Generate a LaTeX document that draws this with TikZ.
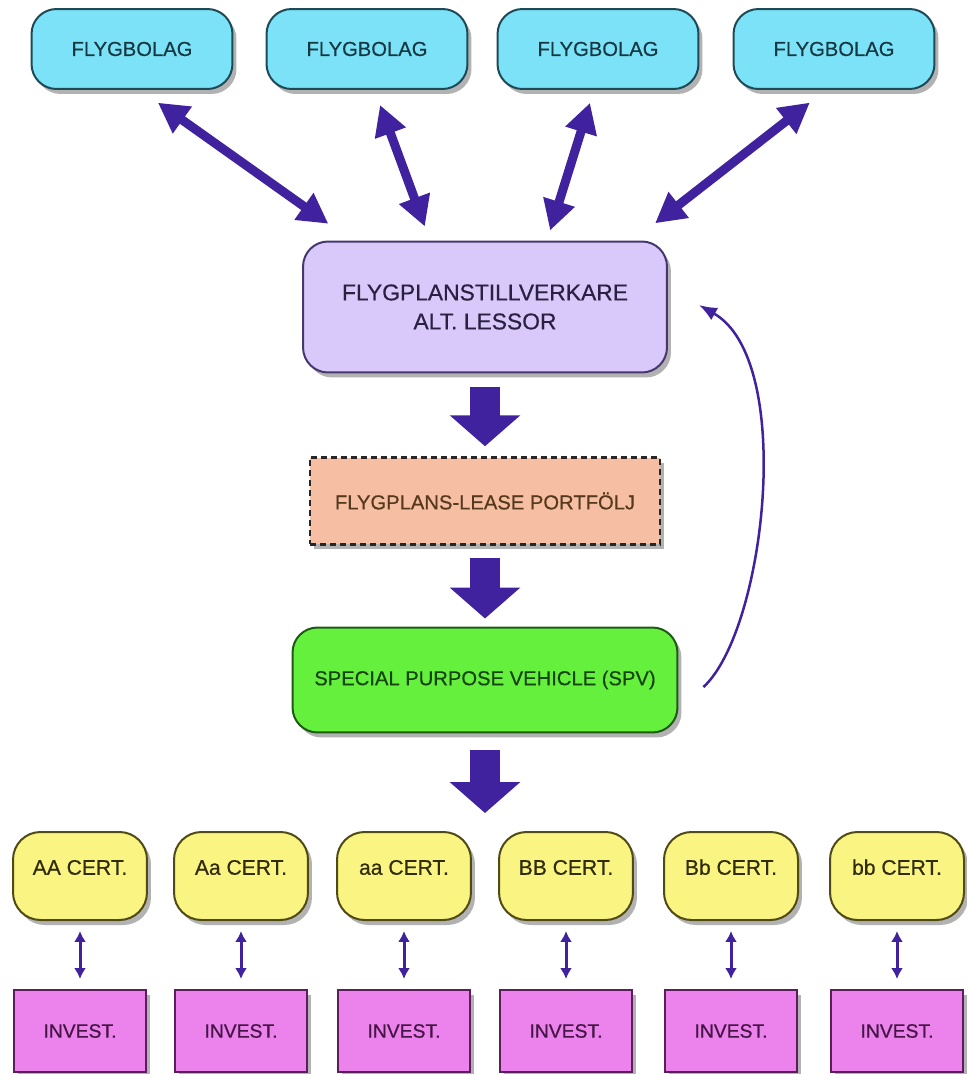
\documentclass[tikz,border=0pt]{standalone}
\usepackage{fontspec}
\setmainfont{Liberation Sans}[FakeBold=0.5]
\usetikzlibrary{arrows.meta, calc, shadows}

\definecolor{arrowc}{RGB}{64,34,158}
\definecolor{fbfill}{RGB}{124,226,247}
\definecolor{fbline}{RGB}{30,74,88}
\definecolor{mfrfill}{RGB}{216,201,250}
\definecolor{mfrline}{RGB}{70,55,110}
\definecolor{leasefill}{RGB}{246,191,163}
\definecolor{spvfill}{RGB}{102,240,62}
\definecolor{spvline}{RGB}{30,90,20}
\definecolor{certfill}{RGB}{250,245,130}
\definecolor{certline}{RGB}{80,74,20}
\definecolor{invfill}{RGB}{236,130,236}
\definecolor{invline}{RGB}{90,30,90}

\begin{document}
\begin{tikzpicture}[
    x=0.02cm, y=-0.02cm,
    >=Triangle,
    shade/.style={drop shadow={shadow xshift=0.08cm, shadow yshift=-0.1cm, opacity=0.3, fill=black}},
    airline/.style={draw=fbline, fill=fbfill, line width=0.04cm, rounded corners=0.5cm, minimum width=4.02cm, minimum height=1.6cm, text=fbline!75!black, font=\fontsize{11.5pt}{13pt}\selectfont, shade},
    maker/.style={draw=mfrline, fill=mfrfill, line width=0.04cm, rounded corners=0.5cm, minimum width=7.28cm, minimum height=2.62cm, align=center, text=mfrline!60!black, font=\fontsize{13pt}{16.5pt}\selectfont, shade},
    pool/.style={draw=black!85, fill=leasefill, line width=0.05cm, dash pattern=on 0.12cm off 0.08cm, minimum width=7cm, minimum height=1.74cm, text=brown!45!black, font=\fontsize{11.5pt}{13pt}\selectfont, shade},
    vehicle/.style={draw=spvline, fill=spvfill, line width=0.04cm, rounded corners=0.5cm, minimum width=7.7cm, minimum height=2.1cm, text=spvline!75!black, font=\fontsize{11.5pt}{13pt}\selectfont, shade},
    cert/.style={draw=certline, fill=certfill, line width=0.04cm, rounded corners=0.55cm, minimum width=2.68cm, minimum height=1.76cm, text height=0.3cm, text depth=0.35cm, text=certline!60!black, font=\fontsize{12pt}{14pt}\selectfont, shade},
    invest/.style={draw=invline, fill=invfill, line width=0.04cm, minimum width=2.64cm, minimum height=1.64cm, text=invline!75!black, font=\fontsize{11pt}{13pt}\selectfont, shade},
    twoway/.style={{Triangle[length=0.6cm, width=0.62cm]}-{Triangle[length=0.6cm, width=0.62cm]}, line width=0.18cm, draw=arrowc},
    bigarrow/.style={-{Triangle[length=0.62cm, width=1.38cm]}, line width=0.6cm, draw=arrowc},
    link/.style={{Latex[length=0.22cm, width=0.24cm]}-{Latex[length=0.22cm, width=0.24cm]}, line width=0.06cm, draw=arrowc, shorten <=0.2cm, shorten >=0.2cm},
    back/.style={-{Latex[length=0.36cm, width=0.28cm]}, line width=0.05cm, draw=arrowc}
]
    \useasboundingbox (0,0) rectangle (966,1074);

    \node[airline] (fb1) at (132,49) {FLYGBOLAG};
    \node[airline] (fb2) at (367,49) {FLYGBOLAG};
    \node[airline] (fb3) at (598,49) {FLYGBOLAG};
    \node[airline] (fb4) at (834,49) {FLYGBOLAG};

    \node[maker] (mfr) at (485,307) {FLYGPLANSTILLVERKARE\\ALT. LESSOR};
    \node[pool] (lease) at (485,501) {FLYGPLANS-LEASE PORTFÖLJ};
    \node[vehicle] (spv) at (485,680) {SPECIAL PURPOSE VEHICLE (SPV)};
    \coordinate (fan) at (485,813);

    \node[cert] (c1) at (80,876) {AA CERT.};
    \node[cert] (c2) at (241,876) {Aa CERT.};
    \node[cert] (c3) at (404,876) {aa CERT.};
    \node[cert] (c4) at (566,876) {BB CERT.};
    \node[cert] (c5) at (731,876) {Bb CERT.};
    \node[cert] (c6) at (897,876) {bb CERT.};

    \node[invest] (i1) at (80,1031) {INVEST.};
    \node[invest] (i2) at (241,1031) {INVEST.};
    \node[invest] (i3) at (404,1031) {INVEST.};
    \node[invest] (i4) at (566,1031) {INVEST.};
    \node[invest] (i5) at (731,1031) {INVEST.};
    \node[invest] (i6) at (897,1031) {INVEST.};

    % airlines <-> manufacturer
    \draw[twoway, shorten <=0.44cm, shorten >=0.58cm] ($(fb1.south)+(8,0)$) -- ($(mfr.north)+(-133,0)$);
    \draw[twoway, shorten <=0.32cm, shorten >=0.3cm] ($(fb2.south)+(7.5,0)$) -- ($(mfr.north)+(-55,0)$);
    \draw[twoway, shorten <=0.27cm, shorten >=0.21cm] ($(fb3.south)+(-4,0)$) -- ($(mfr.north)+(62,0)$);
    \draw[twoway, shorten <=0.41cm, shorten >=0.56cm] ($(fb4.south)+(-8,0)$) -- ($(mfr.north)+(148,0)$);

    % main flow
    \draw[bigarrow, shorten <=0.28cm, shorten >=0.2cm] (mfr.south) -- (lease.north);
    \draw[bigarrow, shorten <=0.24cm, shorten >=0.16cm] (lease.south) -- (spv.north);
    \draw[bigarrow, shorten <=0.34cm] (spv.south) -- (fan);

    % payback to manufacturer
    \draw[back] ($(spv.east)+(25,7)$) .. controls +(62,-57) and +(97,55) .. ($(mfr.east)+(31,-2)$);

    % certificates <-> investors
    \draw[link] (c1) -- (i1);
    \draw[link] (c2) -- (i2);
    \draw[link] (c3) -- (i3);
    \draw[link] (c4) -- (i4);
    \draw[link] (c5) -- (i5);
    \draw[link] (c6) -- (i6);

\end{tikzpicture}
\end{document}
